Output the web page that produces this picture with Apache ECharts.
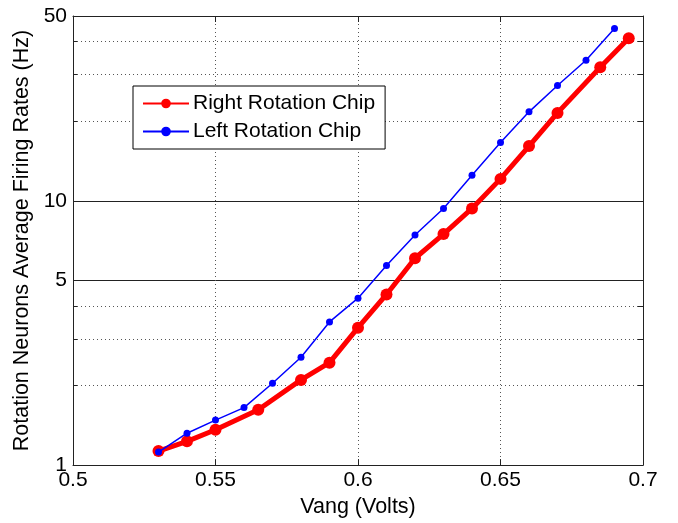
<!DOCTYPE html>
<html>
<head>
<meta charset="UTF-8">
<title>Rotation chips</title>
<script src="https://cdn.jsdelivr.net/npm/echarts@6/dist/echarts.min.js"></script>
<style>
  html, body { margin: 0; padding: 0; background: #fff; }
  #main { width: 678px; height: 523px; }
</style>
</head>
<body>
<div id="main"></div>
<script type="text/javascript">
// data
var rightX = [0.53, 0.54, 0.55, 0.565, 0.58, 0.59, 0.60, 0.61, 0.62, 0.63, 0.64, 0.65, 0.66, 0.67, 0.685, 0.695];
var rightY = [1.13, 1.23, 1.36, 1.62, 2.10, 2.44, 3.31, 4.42, 6.06, 7.48, 9.35, 12.1, 16.1, 21.5, 32.0, 41.2];
var leftX = [0.53, 0.54, 0.55, 0.56, 0.57, 0.58, 0.59, 0.60, 0.61, 0.62, 0.63, 0.64, 0.65, 0.66, 0.67, 0.68, 0.69];
var leftY = [1.12, 1.32, 1.48, 1.65, 2.04, 2.56, 3.48, 4.28, 5.69, 7.42, 9.35, 12.5, 16.6, 21.7, 27.3, 34.0, 44.8];
var yMajor = [1, 5, 10, 50];
var yMinor = [2, 3, 4, 20, 30, 40];

var font = 'Liberation Sans';
var myChart = echarts.init(document.getElementById('main'));

function pairs(xs, ys) {
  var out = [];
  for (var i = 0; i < xs.length; i++) out.push([xs[i], ys[i]]);
  return out;
}

var dotted = { color: '#555', width: 1, type: [1, 3] };

var option = {
  animation: false,
  backgroundColor: '#fff',
  grid: { left: 73, right: 35, top: 16, bottom: 54 },
  legend: {
    orient: 'vertical',
    left: 133, top: 86,
    padding: [7, 10, 7, 9],
    itemWidth: 46, itemHeight: 12, itemGap: 7,
    borderColor: '#000', borderWidth: 1,
    backgroundColor: '#fff',
    textStyle: { fontFamily: font, fontSize: 21, color: '#000', padding: [0, 0, 0, -1] },
    data: ['Right Rotation Chip', 'Left Rotation Chip']
  },
  xAxis: [{
    type: 'value', position: 'bottom',
    min: 0.5, max: 0.7, interval: 0.05,
    name: 'Vang (Volts)', nameLocation: 'middle', nameGap: 29,
    nameTextStyle: { fontFamily: font, fontSize: 21.5, color: '#000' },
    axisLine: { lineStyle: { color: '#222', width: 1 } },
    axisTick: { inside: true, length: 6, lineStyle: { color: '#222' } },
    axisLabel: { fontFamily: font, fontSize: 21, color: '#000', margin: 5,
      formatter: function (v) { return String(+v.toFixed(2)); } },
    splitLine: { show: true, lineStyle: dotted }
  }, {
    type: 'value', position: 'top',
    min: 0.5, max: 0.7, interval: 0.05,
    axisLine: { lineStyle: { color: '#222', width: 1 } },
    axisTick: { inside: true, length: 6, lineStyle: { color: '#222' } },
    axisLabel: { show: false },
    splitLine: { show: false }
  }],
  yAxis: [{
    type: 'log', position: 'left', min: 1, max: 50,
    name: 'Rotation Neurons Average Firing Rates (Hz)', nameLocation: 'middle', nameGap: 36,
    nameTextStyle: { fontFamily: font, fontSize: 21.5, color: '#000' },
    axisLine: { show: true, lineStyle: { color: '#222', width: 1 } },
    axisTick: { show: true, inside: true, length: 6, customValues: yMajor, lineStyle: { color: '#222' } },
    axisLabel: { fontFamily: font, fontSize: 21, color: '#000', margin: 6, customValues: yMajor },
    splitLine: { show: true, lineStyle: { color: '#222', width: 1 } }
  }, {
    type: 'log', position: 'left', min: 1, max: 50,
    axisLine: { show: false },
    axisTick: { show: true, inside: true, length: 4, customValues: yMinor, lineStyle: { color: '#222' } },
    axisLabel: { show: false, customValues: yMinor },
    splitLine: { show: true, lineStyle: dotted }
  }, {
    type: 'log', position: 'right', min: 1, max: 50,
    axisLine: { show: true, lineStyle: { color: '#222', width: 1 } },
    axisTick: { show: true, inside: true, length: 5, customValues: yMajor.concat(yMinor), lineStyle: { color: '#222' } },
    axisLabel: { show: false, customValues: yMajor.concat(yMinor) },
    splitLine: { show: false }
  }],
  series: [{
    name: 'Right Rotation Chip',
    type: 'line',
    xAxisIndex: 0, yAxisIndex: 0,
    data: pairs(rightX, rightY),
    color: '#ff0000',
    lineStyle: { color: '#ff0000', width: 5 },
    itemStyle: { color: '#ff0000' },
    symbol: 'circle', symbolSize: 12,
    z: 3
  }, {
    name: 'Left Rotation Chip',
    type: 'line',
    xAxisIndex: 0, yAxisIndex: 0,
    data: pairs(leftX, leftY),
    color: '#0000ff',
    lineStyle: { color: '#0000ff', width: 1.5 },
    itemStyle: { color: '#0000ff' },
    symbol: 'circle', symbolSize: 7,
    z: 4
  }]
};

myChart.setOption(option);
</script>
</body>
</html>
